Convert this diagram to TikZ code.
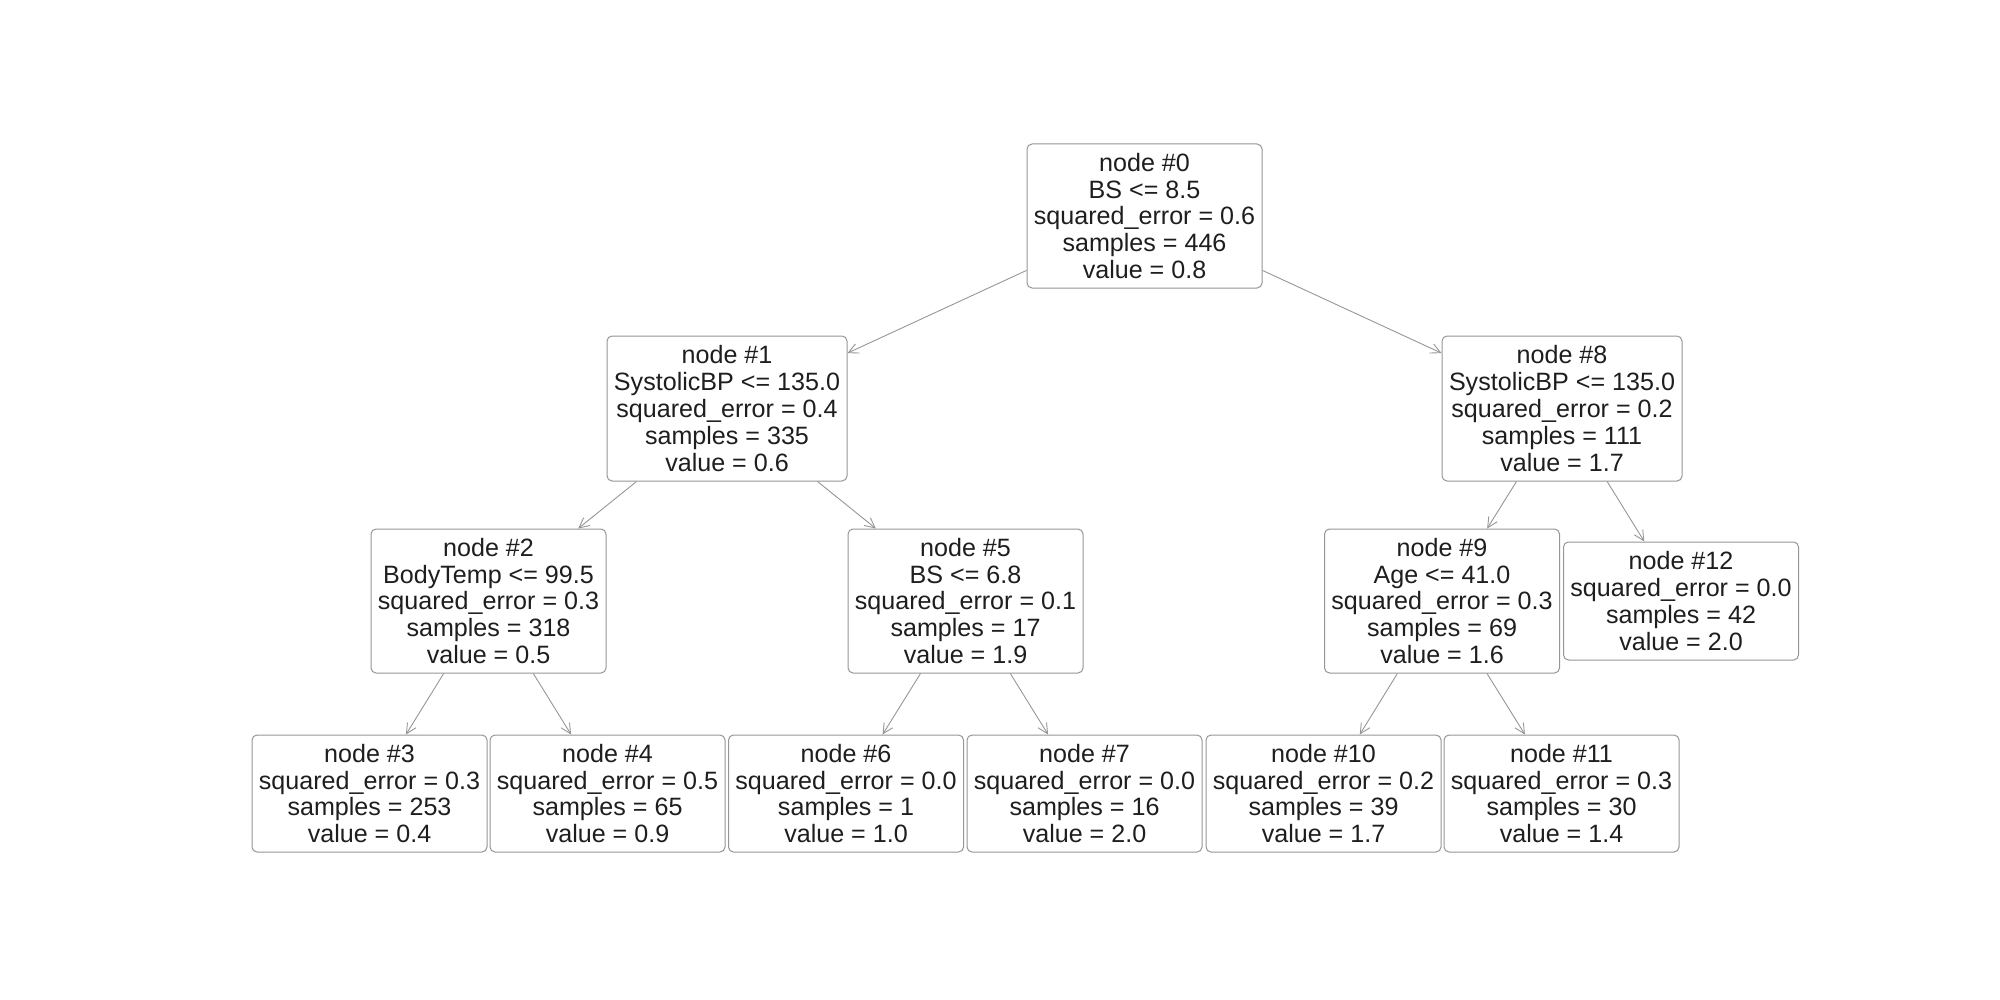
\documentclass[tikz,border=0pt]{standalone}
\usepackage{fontspec}
\setmainfont{Liberation Sans}
\usetikzlibrary{arrows.meta}
\definecolor{txt}{RGB}{30,30,30}
\definecolor{edgec}{RGB}{150,150,150}
\begin{document}
\begin{tikzpicture}[x=0.5pt,y=-0.5pt,
  box/.style={draw=edgec, line width=0.5pt, rounded corners=2.5pt, fill=white, text=txt,
    align=center, inner sep=0pt, minimum width=117.5pt, minimum height=72pt,
    font=\fontsize{12.55pt}{13.4pt}\selectfont},
  leaf/.style={box, minimum height=58.5pt},
  wide/.style={minimum width=120pt, minimum height=72.5pt},
  link/.style={draw=edgec, line width=0.45pt, -{Straight Barb[length=5pt,width=5pt]}}]
\useasboundingbox (0,0) rectangle (2000,1000);
\node[box] (n0) at (1144.5,216) {node \#0\\BS <= 8.5\\squared\_error = 0.6\\samples = 446\\value = 0.8};
\node[box,wide] (n1) at (727,408.5) {node \#1\\SystolicBP <= 135.0\\squared\_error = 0.4\\samples = 335\\value = 0.6};
\node[box,wide] (n8) at (1562,408.5) {node \#8\\SystolicBP <= 135.0\\squared\_error = 0.2\\samples = 111\\value = 1.7};
\node[box] (n2) at (488.5,601) {node \#2\\BodyTemp <= 99.5\\squared\_error = 0.3\\samples = 318\\value = 0.5};
\node[box] (n5) at (965.5,601) {node \#5\\BS <= 6.8\\squared\_error = 0.1\\samples = 17\\value = 1.9};
\node[box] (n9) at (1442,601) {node \#9\\Age <= 41.0\\squared\_error = 0.3\\samples = 69\\value = 1.6};
\node[leaf,minimum height=59pt] (n12) at (1681,601) {node \#12\\squared\_error = 0.0\\samples = 42\\value = 2.0};
\node[leaf] (n3) at (369.5,793.5) {node \#3\\squared\_error = 0.3\\samples = 253\\value = 0.4};
\node[leaf] (n4) at (607.5,793.5) {node \#4\\squared\_error = 0.5\\samples = 65\\value = 0.9};
\node[leaf] (n6) at (846,793.5) {node \#6\\squared\_error = 0.0\\samples = 1\\value = 1.0};
\node[leaf] (n7) at (1084.5,793.5) {node \#7\\squared\_error = 0.0\\samples = 16\\value = 2.0};
\node[leaf] (n10) at (1323.5,793.5) {node \#10\\squared\_error = 0.2\\samples = 39\\value = 1.7};
\node[leaf] (n11) at (1561.5,793.5) {node \#11\\squared\_error = 0.3\\samples = 30\\value = 1.4};
\draw[link] (n0) -- (n1);
\draw[link] (n0) -- (n8);
\draw[link] (n1) -- (n2);
\draw[link] (n1) -- (n5);
\draw[link] (n2) -- (n3);
\draw[link] (n2) -- (n4);
\draw[link] (n5) -- (n6);
\draw[link] (n5) -- (n7);
\draw[link] (n8) -- (n9);
\draw[link] (n8) -- (n12);
\draw[link] (n9) -- (n10);
\draw[link] (n9) -- (n11);
\end{tikzpicture}
\end{document}
